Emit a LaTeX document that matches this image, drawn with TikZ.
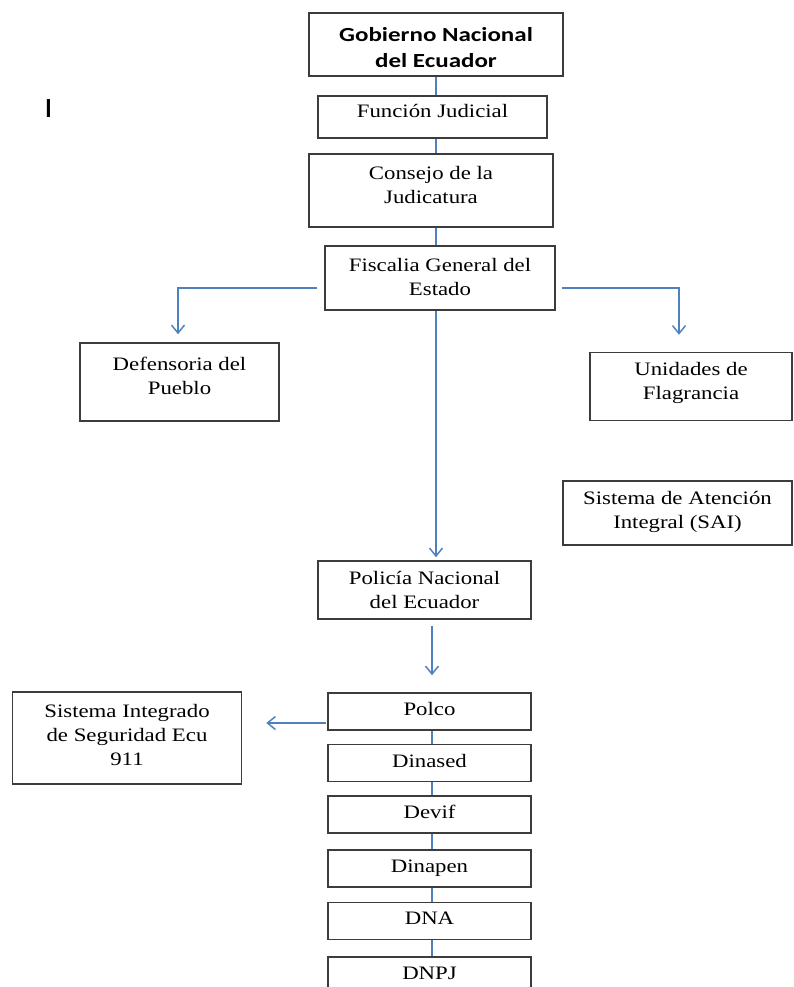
\documentclass[tikz,border=0pt]{standalone}
\usepackage{fontspec}
\setmainfont{Liberation Serif}[FakeStretch=1.2]
\newfontfamily\calfont{Carlito}[FakeStretch=1.25]
\usetikzlibrary{arrows.meta}
\definecolor{linkblue}{RGB}{79,129,189}
\definecolor{boxgray}{RGB}{60,60,60}

\begin{document}
\begin{tikzpicture}[x=1pt,y=-1pt,
    box/.style={draw=boxgray, line width=1.5pt, align=center, inner sep=0pt,
      text depth=5pt, font=\fontsize{19}{24}\selectfont},
    lifted/.style={text depth=12pt},
    link/.style={draw=linkblue, line width=1.5pt},
    arrow/.style={link, -{Straight Barb[length=8pt,width=13pt]}}]
    \useasboundingbox (0,0) rectangle (793,987);
    % top chain
    \node[box, minimum width=254pt, minimum height=63pt, text height=47pt, text depth=0pt,
      font=\calfont\bfseries\fontsize{20}{26}\selectfont] (gob) at (436,44.5) {Gobierno Nacional\\del Ecuador};
    \node[box, lifted, minimum width=229pt, minimum height=42pt] (func) at (432.5,117) {Función Judicial};
    \node[box, lifted, minimum width=244pt, minimum height=73pt] (cons) at (431,190.5) {Consejo de la\\Judicatura};
    \node[box, minimum width=230pt, minimum height=64pt, text depth=3pt] (fisc) at (440,278) {Fiscalia General del\\Estado};
    \node[inner sep=0pt, font=\calfont\fontsize{28}{30}\selectfont] (mark) at (48.5,109) {I};
    % branches
    \node[box, lifted, minimum width=199pt, minimum height=78pt] (defe) at (179.5,382) {Defensoria del\\Pueblo};
    \node[box, lifted, minimum width=202pt, minimum height=68pt] (unid) at (691,386.5) {Unidades de\\Flagrancia};
    \node[box, minimum width=229pt, minimum height=64pt, text depth=6pt] (sai) at (677.5,513) {Sistema de Atención\\Integral (SAI)};
    \node[box, minimum width=213pt, minimum height=58pt, text depth=0pt] (poli) at (424.5,590) {Policía Nacional\\del Ecuador};
    \node[box, minimum width=229pt, minimum height=92pt, text depth=7pt] (sis) at (127,738) {Sistema Integrado\\de Seguridad Ecu\\911};
    % police units
    \node[box, minimum width=203pt, minimum height=37pt] (polco) at (429.5,711.5) {Polco};
    \node[box, minimum width=203pt, minimum height=37pt] (dinased) at (429.5,763) {Dinased};
    \node[box, minimum width=203pt, minimum height=37pt] (devif) at (429.5,814.5) {Devif};
    \node[box, minimum width=203pt, minimum height=37pt] (dinapen) at (429.5,868.5) {Dinapen};
    \node[box, minimum width=203pt, minimum height=37pt] (dna) at (429.5,921) {DNA};
    \node[box, minimum width=203pt, minimum height=37pt] (dnpj) at (429.5,975.5) {DNPJ};
    % connectors
    \draw[link] (gob.south) -- (gob.south |- func.north);
    \draw[link] (gob.south |- func.south) -- (gob.south |- cons.north);
    \draw[link] (gob.south |- cons.south) -- (gob.south |- fisc.north);
    \draw[arrow] ([xshift=-7pt,yshift=-10pt]fisc.west) -| ([xshift=-1.5pt,yshift=8pt]defe.north);
    \draw[arrow] ([xshift=6pt,yshift=-10pt]fisc.east) -| ([xshift=-12pt,yshift=17pt]unid.north);
    \draw[arrow] (gob.south |- fisc.south) -- ([yshift=3pt]gob.south |- poli.north);
    \draw[arrow] ([xshift=7.5pt,yshift=-6pt]poli.south) -- ([xshift=2.5pt,yshift=17pt]polco.north);
    \draw[arrow] ([xshift=-1pt,yshift=-11.5pt]polco.west) -- ([xshift=24pt,yshift=15pt]sis.east);
    \draw[link] ([xshift=2.5pt]polco.south) -- ([xshift=2.5pt]dinased.north);
    \draw[link] ([xshift=2.5pt]dinased.south) -- ([xshift=2.5pt]devif.north);
    \draw[link] ([xshift=2.5pt]devif.south) -- ([xshift=2.5pt]dinapen.north);
    \draw[link] ([xshift=2.5pt]dinapen.south) -- ([xshift=2.5pt]dna.north);
    \draw[link] ([xshift=2.5pt]dna.south) -- ([xshift=2.5pt]dnpj.north);
\end{tikzpicture}
\end{document}
